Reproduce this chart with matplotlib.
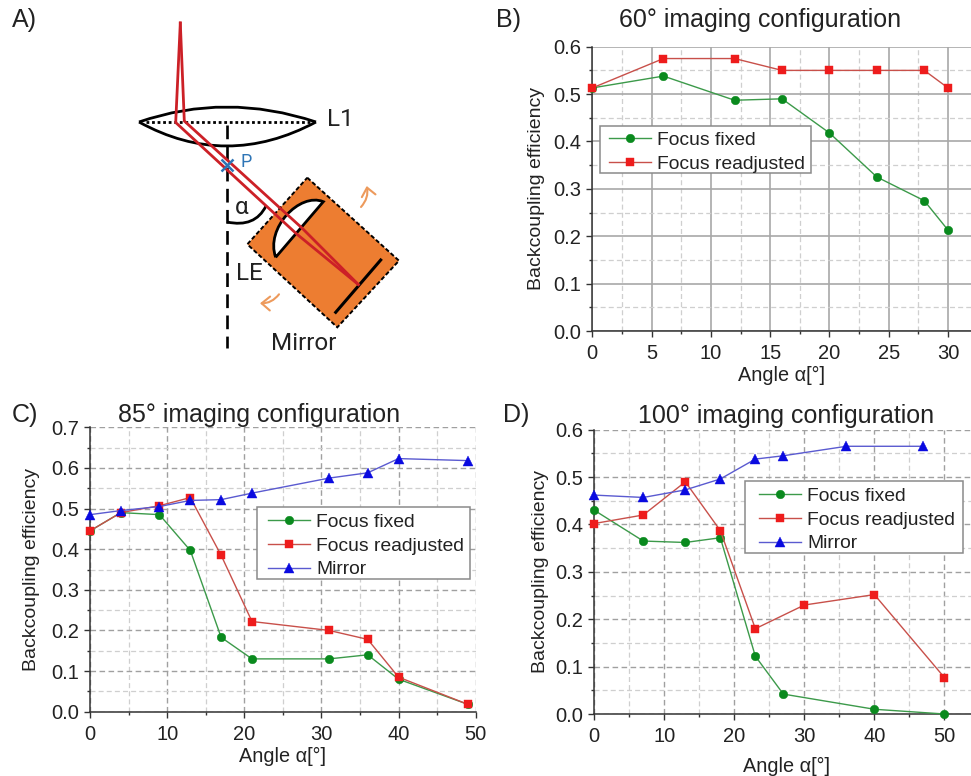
import numpy as np
import matplotlib
matplotlib.use('Agg')
import matplotlib.pyplot as plt
from matplotlib.patches import Polygon, PathPatch, FancyArrowPatch, Rectangle
from matplotlib.path import Path

plt.rcParams['font.family'] = ['Liberation Sans', 'DejaVu Sans']

W, H = 971, 776
LABEL_FIXED = 'Focus fixed'
LABEL_READJ = 'Focus readjusted'
LABEL_MIRROR = 'Mirror'

# Panel B
b_x = [0, 6, 12, 16, 20, 24, 28, 30]
b_fixed = [0.513, 0.538, 0.487, 0.490, 0.418, 0.325, 0.275, 0.213]
b_readj = [0.513, 0.575, 0.575, 0.550, 0.550, 0.550, 0.550, 0.513]

# Panel C
c_x = [0, 4, 9, 13, 17, 21, 31, 36, 40, 49]
c_fixed = [0.445, 0.490, 0.485, 0.397, 0.183, 0.130, 0.130, 0.140, 0.080, 0.018]
c_readj = [0.445, 0.490, 0.507, 0.527, 0.385, 0.222, 0.200, 0.178, 0.085, 0.018]
c_mirror = [0.485, 0.495, 0.505, 0.520, 0.522, 0.538, 0.575, 0.588, 0.623, 0.618]

# Panel D
d_x_fixed = [0, 7, 13, 18, 23, 27, 40, 50]
d_fixed = [0.430, 0.365, 0.362, 0.372, 0.122, 0.042, 0.010, 0.000]
d_x_readj = [0, 7, 13, 18, 23, 30, 40, 50]
d_readj = [0.402, 0.420, 0.490, 0.387, 0.180, 0.230, 0.252, 0.077]
d_x_mirror = [0, 7, 13, 18, 23, 27, 36, 47]
d_mirror = [0.462, 0.457, 0.473, 0.496, 0.538, 0.545, 0.565, 0.565]

# Schematic outline (pixels of the picture)
box_corners = [(307.3, 177.7), (399, 260.7), (337.3, 327.3), (247.3, 244.3)]
mirror_line = [(335.7, 312.3), (380.7, 260)]
axis_line = [(226.7, 125), (226.7, 348)]
beam_up = [(180.3, 23), (184.3, 121), (302.3, 228.3), (358.3, 284.5)]
beam_down = [(180.3, 23), (175.7, 122.5), (296.7, 234), (358.3, 284.5)]


def make_axes(left, right, top, bottom):
    return fig.add_axes([left / W, 1 - bottom / H, (right - left) / W, (bottom - top) / H])


def style_axes(ax, xlim, ymax, xmajor, solid_major=False):
    ax.set_xlim(*xlim)
    ax.set_ylim(0, ymax)
    ax.set_xticks(np.arange(0, xlim[1] + 0.01, xmajor))
    ax.set_xticks(np.arange(xmajor / 2, xlim[1], xmajor), minor=True)
    ax.set_yticks(np.arange(0, ymax + 0.01, 0.1))
    ax.set_yticks(np.arange(0.05, ymax, 0.1), minor=True)
    ax.yaxis.set_major_formatter(lambda v, p: '%.1f' % v)
    if solid_major:
        ax.grid(True, which='major', color='#a8a8a8', lw=1.2, ls='-')
    else:
        ax.grid(True, which='major', color='#a0a0a0', lw=1.0, ls=(0, (4, 2.5)))
    ax.grid(True, which='minor', color='#cfcfcf', lw=0.9, ls=(0, (4, 2.5)))
    ax.set_axisbelow(True)
    ax.spines['top'].set_visible(False)
    ax.spines['right'].set_visible(False)
    for s in ['left', 'bottom']:
        ax.spines[s].set_color('#333333')
        ax.spines[s].set_linewidth(1.1)
    ax.tick_params(which='major', length=4.5, width=1, color='#333333', labelsize=14.5, labelcolor='#222222')
    ax.tick_params(which='minor', length=2.5, width=1, color='#333333')
    ax.tick_params(axis='x', which='major', pad=5)
    ax.set_ylabel('Backcoupling efficiency', fontsize=14, color='#222222')
    ax.set_xlabel('Angle \u03b1[\u00b0]', fontsize=14.3, color='#222222', labelpad=2)


def draw_series(ax, x, y, label, kind):
    line_c, mark_c, marker, size = {
        'fixed': ('#3c9a4a', '#0a8a1e', 'o', 6.2),
        'readj': ('#c8504a', '#ee1c1c', 's', 5.6),
        'mirror': ('#5a5ad0', '#0a0ae0', '^', 6.6),
    }[kind]
    ax.plot(x, y, color=line_c, lw=1.0, marker=marker, ms=size, mfc=mark_c, mec=mark_c,
            mew=0.3, label=label, clip_on=False, zorder=4)


def add_legend(ax, left, right, top, bottom, inset, top_gap=6.5):
    # frame drawn apart, the side and top paddings differ in the picture
    ax.add_patch(Rectangle((left / W, 1 - bottom / H), (right - left) / W, (bottom - top) / H,
                           transform=fig.transFigure, fc='white', ec='#8a8a8a', lw=1.1,
                           zorder=4.5, clip_on=False))
    leg = ax.legend(loc='upper left', bbox_to_anchor=((left + inset) / W, 1 - (top + top_gap) / H),
                    bbox_transform=fig.transFigure, fontsize=13.9, frameon=False,
                    borderaxespad=0, borderpad=0, handlelength=2.2,
                    handletextpad=0.3, labelspacing=0.33, labelcolor='#222222')
    leg.set_zorder(5)


fig = plt.figure(figsize=(W / 100, H / 100), dpi=100)

# Panel A, schematic drawn on an overlay in pixel units
over = fig.add_axes([0, 0, 1, 1])
over.set_xlim(0, W)
over.set_ylim(H, 0)
over.axis('off')
over.set_zorder(5)
over.patch.set_alpha(0)

over.add_patch(Polygon(box_corners, closed=True, fc='#ed7d31', ec='black', lw=1.4, ls=(0, (2.2, 1.2))))
lens_top = Path([(139, 122), (226, 92), (316, 122)], [Path.MOVETO, Path.CURVE3, Path.CURVE3])
lens_bot = Path([(139, 122), (226, 170), (316, 122)], [Path.MOVETO, Path.CURVE3, Path.CURVE3])
over.add_patch(PathPatch(lens_top, fc='none', ec='black', lw=2.0))
over.add_patch(PathPatch(lens_bot, fc='none', ec='black', lw=2.0))
over.plot([146, 310], [122, 122], color='black', lw=2.0, ls=(0, (1, 1)))
over.plot(*zip(*axis_line), color='black', lw=1.9, ls=(0, (5.2, 2.8)))

le_path = Path([(275.7, 257.3), (265, 228.3), (299.7, 192), (323.3, 201.7), (275.7, 257.3)],
               [Path.MOVETO, Path.CURVE4, Path.CURVE4, Path.CURVE4, Path.LINETO])
over.add_patch(PathPatch(le_path, fc='white', ec='black', lw=2.0))
over.plot(*zip(*mirror_line), color='black', lw=2.2)
over.plot(*zip(*beam_up), color='#cc2027', lw=2.0)
over.plot(*zip(*beam_down), color='#cc2027', lw=2.0)
arc = Path([(227, 222), (255, 228), (266, 206)], [Path.MOVETO, Path.CURVE3, Path.CURVE3])
over.add_patch(PathPatch(arc, fc='none', ec='black', lw=2))
over.plot([227.3], [165], marker='x', ms=9, mew=1.8, color='#2e75b6')
over.add_patch(FancyArrowPatch((361, 207), (366.7, 186), connectionstyle='arc3,rad=0.25', mutation_scale=1,
                               shrinkA=0, shrinkB=0,
                               arrowstyle='->,head_width=5,head_length=6', color='#ed9a5c', lw=1.5))
over.add_patch(FancyArrowPatch((279, 294.3), (260, 303.3), connectionstyle='arc3,rad=-0.25', mutation_scale=1,
                               shrinkA=0, shrinkB=0,
                               arrowstyle='->,head_width=5,head_length=6', color='#ed9a5c', lw=1.5))
over.text(240, 162, 'P', color='#2e75b6', fontsize=13, family='Roboto', ha='left', va='center')
over.text(327, 120, 'L1', fontsize=17.5, family='Roboto', va='center', color='#222222')
over.text(242, 207, '\u03b1', fontsize=17.5, family='Roboto', ha='center', va='center', color='#222222')
over.text(249, 274, 'LE', fontsize=17.5, family='Roboto', ha='center', va='center', color='#222222')
over.text(304, 344, 'Mirror', fontsize=17.5, family='Roboto', ha='center', va='center', color='#222222')
for label, x, y in [('A)', 24, 20), ('B)', 509, 20), ('C)', 25, 415), ('D)', 516, 415)]:
    over.text(x, y, label, fontsize=18, ha='center', va='center', color='#222222')

# Panel B
ax_b = make_axes(592.3, 971, 46.7, 331)
style_axes(ax_b, (0, 31.94), 0.6, 5, solid_major=True)
draw_series(ax_b, b_x, b_fixed, LABEL_FIXED, 'fixed')
draw_series(ax_b, b_x, b_readj, LABEL_READJ, 'readj')
add_legend(ax_b, 600, 811, 125.7, 173.3, 9, top_gap=5.5)
ax_b.yaxis.labelpad = 6
ax_b.set_title('60\u00b0 imaging configuration', fontsize=18, color='#222222', x=0.443, pad=14)

# Panel C
ax_c = make_axes(90, 475.7, 427.3, 711.7)
style_axes(ax_c, (0, 50), 0.7, 10)
draw_series(ax_c, c_x, c_fixed, LABEL_FIXED, 'fixed')
draw_series(ax_c, c_x, c_readj, LABEL_READJ, 'readj')
draw_series(ax_c, c_x, c_mirror, LABEL_MIRROR, 'mirror')
add_legend(ax_c, 257, 470, 506.7, 579, 11)
ax_c.yaxis.labelpad = 7.5
ax_c.set_title('85\u00b0 imaging configuration', fontsize=18, color='#222222', x=0.4395, pad=4)

# Panel D
ax_d = make_axes(594.3, 971, 429.7, 714)
style_axes(ax_d, (0, 53.8), 0.6, 10)
draw_series(ax_d, d_x_fixed, d_fixed, LABEL_FIXED, 'fixed')
draw_series(ax_d, d_x_readj, d_readj, LABEL_READJ, 'readj')
draw_series(ax_d, d_x_mirror, d_mirror, LABEL_MIRROR, 'mirror')
add_legend(ax_d, 745, 963, 480.7, 553, 14)
ax_d.yaxis.labelpad = 4.5
ax_d.xaxis.labelpad = 8
ax_d.xaxis.label.set_x(0.5115)
ax_d.set_title('100\u00b0 imaging configuration', fontsize=18, color='#222222', x=0.51, pad=4.5)

fig.savefig('out.png', dpi=100)
